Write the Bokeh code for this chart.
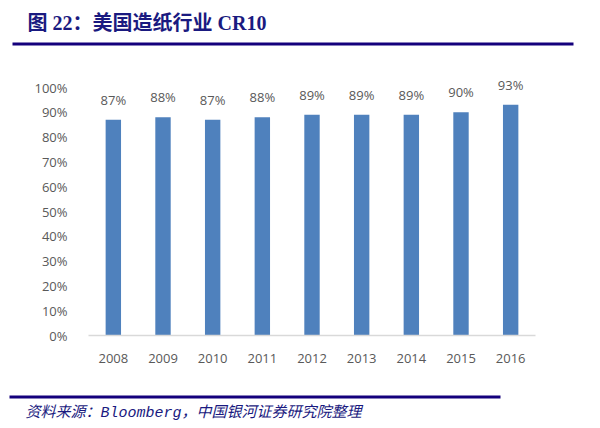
from bokeh.plotting import figure
from bokeh.models import (FactorRange, Range1d, FixedTicker, NumeralTickFormatter,
                          Label, BoxAnnotation, ColumnDataSource)
from bokeh.layouts import column
from bokeh.core.properties import value
from bokeh.embed import file_html
from bokeh.resources import INLINE

years = ["2008", "2009", "2010", "2011", "2012", "2013", "2014", "2015", "2016"]
cr10 = [0.87, 0.88, 0.87, 0.88, 0.89, 0.89, 0.89, 0.90, 0.93]
bar_labels = ["87%", "88%", "87%", "88%", "89%", "89%", "89%", "90%", "93%"]
y_ticks = [0, 0.1, 0.2, 0.3, 0.4, 0.5, 0.6, 0.7, 0.8, 0.9, 1.0]
title_text = "图 22：美国造纸行业 CR10"
source_text = "资料来源：Bloomberg，中国银河证券研究院整理"

W = 592
NAVY = "#14007c"
TXT = "#1a1a80"
GRAY = "#595959"

def blank(h):
    f = figure(width=W, height=h, x_range=Range1d(0, W), y_range=Range1d(h, 0),
               output_backend="svg", toolbar_location=None, min_border=0,
               frame_align=False)
    f.axis.visible = False
    f.grid.visible = False
    f.outline_line_color = None
    return f

# title
TH = 54
pt = blank(TH)
pt.add_layout(Label(x=27, y=22, text=title_text, text_baseline="middle",
                    text_font="'Liberation Serif', 'Noto Sans CJK SC'",
                    text_font_style="bold", text_font_size="20px", text_color=TXT))
pt.add_layout(BoxAnnotation(left=12, right=573, top=42, bottom=45,
                            fill_color=NAVY, fill_alpha=1, line_color=None))

# main chart
MH = 332
BT, BB = 16, 51
YEND = (MH - BT - BB) / 248.0
p = figure(width=W, height=MH, x_range=FactorRange(*years), y_range=Range1d(0, YEND),
           output_backend="svg", toolbar_location=None, frame_align=False,
           min_border_left=88, min_border_right=57, min_border_top=BT, min_border_bottom=BB)
src = ColumnDataSource(dict(x=years, top=cr10, lab=bar_labels))
p.vbar(x="x", top="top", width=0.31, source=src, fill_color="#4f81bd", line_color=None)
p.text(x="x", y="top", text="lab", source=src, text_align="center", text_baseline="bottom",
       y_offset=-11, text_font=value("Open Sans"), text_font_size="13px", text_color=GRAY)
p.grid.visible = False
p.outline_line_color = None
p.yaxis.ticker = FixedTicker(ticks=y_ticks)
p.yaxis.formatter = NumeralTickFormatter(format="0%")
p.yaxis.axis_line_color = None
p.axis.major_tick_line_color = None
p.axis.minor_tick_line_color = None
p.yaxis.major_label_standoff = 15
p.xaxis.major_label_standoff = 12
p.xaxis.axis_line_color = "#d9d9d9"
p.xaxis.axis_line_width = 1.5
p.axis.major_label_text_font = "Open Sans"
p.axis.major_label_text_font_size = "13px"
p.axis.major_label_text_color = GRAY

# footer
FH = 36
pf = blank(FH)
pf.add_layout(BoxAnnotation(left=9, right=500, top=9, bottom=12,
                            fill_color=NAVY, fill_alpha=1, line_color=None))
pf.add_layout(Label(x=25, y=27, text=source_text, text_baseline="middle",
                    text_font="'Liberation Mono', 'Noto Sans CJK SC'",
                    text_font_style="italic", text_font_size="15px", text_color=TXT))

layout = column(pt, p, pf, spacing=0)
open("out.html", "w").write(file_html(layout, INLINE))
